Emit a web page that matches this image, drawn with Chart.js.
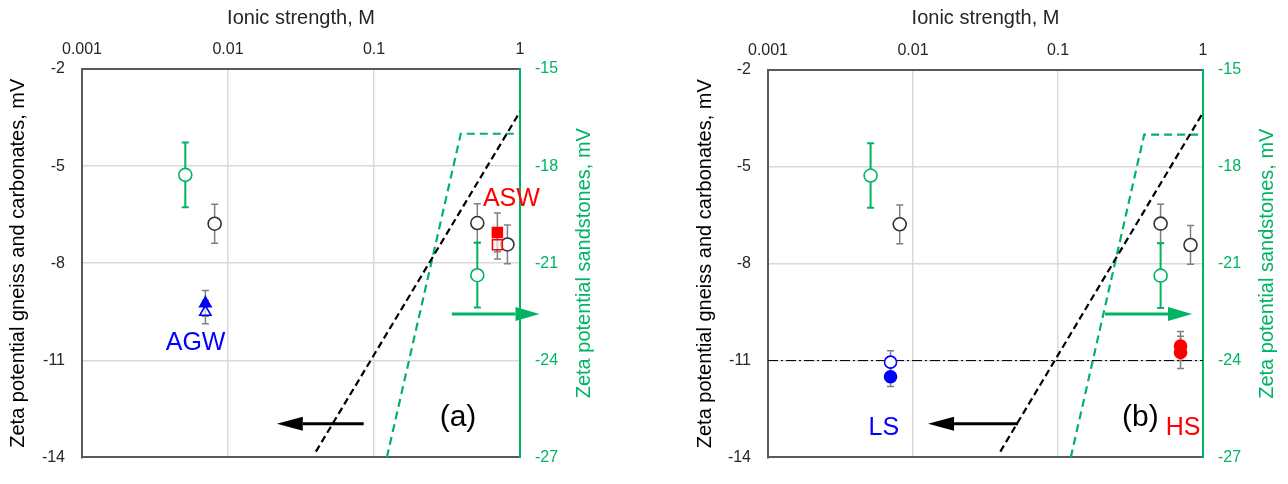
<!DOCTYPE html>
<html>
<head>
<meta charset="utf-8">
<script src="https://cdn.jsdelivr.net/npm/chart.js@4.4.0/dist/chart.umd.min.js"></script>
<style>
  body { margin: 0; background: #fff; }
  #wrap { position: relative; width: 1288px; height: 484px; }
  canvas { position: absolute; top: 0; }
</style>
</head>
<body>
<div id="wrap">
  <canvas id="panelA" width="644" height="484" style="left:0px"></canvas>
  <canvas id="panelB" width="644" height="484" style="left:644px"></canvas>
</div>
<script>
// axis ticks
const ionicTicks = [0.001, 0.01, 0.1, 1];
const ionicLabels = ['0.001', '0.01', '0.1', '1'];
const gneissTicks = [-2, -5, -8, -11, -14];
const sandTicks = [-15, -18, -21, -24, -27];

// gneiss & carbonates (black open circles, left axis), same in both panels
const gneissX = [0.0081, 0.51, 0.82];
const gneissY = [-6.78, -6.76, -7.42];
const gneissErr = [0.6, 0.6, 0.6];

// sandstones (green open circles, right axis)
const sandX = [0.0051, 0.51];
const sandY = [-18.27, -21.37];
const sandErr = [1.0, 1.0];

// trend lines
const trendGneissX = [0.04, 1];
const trendGneissY = [-13.82, -3.32];
const trendSandX = [0.1225, 0.393, 1];
const trendSandY = [-27, -17, -17];

// (a) AGW / ASW
const agwX = [0.0070];
const agwFilledY = [-9.24];
const agwFilledErr = [0.4];
const agwOpenY = [-9.51];
const agwOpenErr = [0.36];
const aswX = [0.70];
const aswFilledY = [-7.05];
const aswFilledErr = [0.6];
const aswOpenY = [-7.43];
const aswOpenErr = [0.44];

// (b) LS / HS
const lsX = [0.0070];
const lsOpenY = [-11.05];
const lsOpenErr = [0.35];
const lsFilledY = [-11.5];
const lsFilledErr = [0.3];
const hsX = [0.70];
const hsUpperY = [-10.55];
const hsUpperErr = [0.45];
const hsLowerY = [-10.75];
const hsLowerErr = [0.5];
const thresholdX = [0.001, 1];
const thresholdY = [-11, -11];

// arrows: x from -> to, at y
const arrowLeftX_a = [0.085, 0.0216];
const arrowLeftY_a = -12.96;
const arrowRightX_a = [0.341, 1.36];
const arrowRightY_a = -22.57;
const arrowLeftX_b = [0.053, 0.0127];
const arrowLeftY_b = -12.96;
const arrowRightX_b = [0.211, 0.84];
const arrowRightY_b = -22.56;

// text labels
const labelText_a = ['AGW', 'ASW', '(a)'];
const labelX_a = [0.0060, 0.873, 0.376];
const labelY_a = [-10.48, -6.01, -12.78];
const labelText_b = ['LS', 'HS', '(b)'];
const labelX_b = [0.0063, 0.728, 0.37];
const labelY_b = [-13.1, -13.1, -12.78];

const GREEN = '#00b464';
const GREY = '#7f7f7f';
const DARK = '#595959';
const GRID = '#d9d9d9';
const NONE = 'rgba(0,0,0,0)';

Chart.defaults.font.family = '"Liberation Sans", Arial, sans-serif';

const pts = (xs, ys) => xs.map((x, i) => ({x: x, y: ys[i]}));

const marker = (xs, ys, err, style, fill, stroke, r, errColor, axis) => ({
  data: pts(xs, ys),
  yAxisID: axis || 'y',
  xAxisID: 'x',
  yErr: err,
  errColor: errColor || GREY,
  showLine: false,
  pointStyle: style,
  pointRadius: r,
  pointHoverRadius: r,
  pointBackgroundColor: fill,
  pointBorderColor: stroke,
  pointBorderWidth: 1.6
});

const line = (xs, ys, color, dash, width, axis) => ({
  data: pts(xs, ys),
  yAxisID: axis || 'y',
  xAxisID: 'x',
  showLine: true,
  fill: false,
  tension: 0,
  borderColor: color,
  borderWidth: width,
  borderDash: dash,
  pointRadius: 0
});

function drawArrow(ctx, x1, y1, x2, y2, color, width, headLen, headHalf) {
  const ang = Math.atan2(y2 - y1, x2 - x1);
  const bx = x2 - headLen * Math.cos(ang), by = y2 - headLen * Math.sin(ang);
  ctx.strokeStyle = color;
  ctx.fillStyle = color;
  ctx.lineWidth = width;
  ctx.beginPath();
  ctx.moveTo(x1, y1);
  ctx.lineTo(bx, by);
  ctx.stroke();
  ctx.beginPath();
  ctx.moveTo(x2, y2);
  ctx.lineTo(bx + headHalf * Math.sin(ang), by - headHalf * Math.cos(ang));
  ctx.lineTo(bx - headHalf * Math.sin(ang), by + headHalf * Math.cos(ang));
  ctx.closePath();
  ctx.fill();
}

const extras = {
  id: 'extras',
  beforeDatasetsDraw(chart) {
    const ctx = chart.ctx;
    const xs = chart.scales.x;
    chart.data.datasets.forEach(ds => {
      if (!ds.yErr) return;
      const ys = chart.scales[ds.yAxisID];
      ctx.save();
      ctx.strokeStyle = ds.errColor;
      ctx.lineWidth = ds.errColor === GREEN ? 2 : 1.5;
      ds.data.forEach((p, i) => {
        const px = xs.getPixelForValue(p.x);
        const t = ys.getPixelForValue(p.y + ds.yErr[i]);
        const b = ys.getPixelForValue(p.y - ds.yErr[i]);
        ctx.beginPath();
        ctx.moveTo(px, t); ctx.lineTo(px, b);
        ctx.moveTo(px - 3.5, t); ctx.lineTo(px + 3.5, t);
        ctx.moveTo(px - 3.5, b); ctx.lineTo(px + 3.5, b);
        ctx.stroke();
      });
      ctx.restore();
    });
  },
  afterDraw(chart) {
    const o = chart.options.plugins.extras;
    const ctx = chart.ctx;
    const xs = chart.scales.x, yl = chart.scales.y, yr = chart.scales.y2;
    ctx.save();
    // arrows
    o.arrows.forEach(a => {
      const sc = a.axis === 'y2' ? yr : yl;
      const py = sc.getPixelForValue(a.y);
      drawArrow(ctx, xs.getPixelForValue(a.xs[0]), py, xs.getPixelForValue(a.xs[1]), py,
        a.color, 3, a.head, 7);
    });
    // labels
    ctx.textAlign = 'center';
    ctx.textBaseline = 'middle';
    o.labels.text.forEach((t, i) => {
      ctx.fillStyle = o.labels.colors[i];
      ctx.font = o.labels.sizes[i] + 'px "Liberation Sans", Arial, sans-serif';
      ctx.fillText(t, xs.getPixelForValue(o.labels.x[i]), yl.getPixelForValue(o.labels.y[i]));
    });
    // right axis title, read bottom to top
    ctx.translate(yr.left + o.rightTitleOffset, (chart.chartArea.top + chart.chartArea.bottom) / 2);
    ctx.rotate(-Math.PI / 2);
    ctx.fillStyle = GREEN;
    ctx.font = '20px "Liberation Sans", Arial, sans-serif';
    ctx.fillText('Zeta potential sandstones, mV', 0, 0);
    ctx.restore();
  }
};

function makeScales(box) {
  return {
    x: {
      type: 'logarithmic', position: 'top', min: 0.001, max: 1,
      afterBuildTicks: s => { s.ticks = ionicTicks.map(v => ({value: v})); },
      afterFit: s => { s.height = box.top; },
      ticks: {
        callback: v => ionicLabels[ionicTicks.indexOf(v)],
        color: '#262626', font: {size: 16}, padding: 10, maxRotation: 0, autoSkip: false
      },
      grid: {
        color: c => (c.tick && (c.tick.value === 0.001 || c.tick.value === 1)) ? NONE : GRID,
        lineWidth: 1.5, drawTicks: false
      },
      border: {color: DARK, width: 2},
      title: {display: true, text: 'Ionic strength, M', color: '#262626', font: {size: 20}, padding: {top: 6, bottom: 0}}
    },
    x2: {
      type: 'logarithmic', position: 'bottom', min: 0.001, max: 1,
      afterFit: s => { s.height = box.bottom; },
      ticks: {display: false},
      grid: {display: false, drawTicks: false},
      border: {color: DARK, width: 2}
    },
    y: {
      type: 'linear', position: 'left', min: -14, max: -2,
      afterBuildTicks: s => { s.ticks = gneissTicks.map(v => ({value: v})); },
      afterFit: s => { s.width = box.left; },
      ticks: {callback: v => String(v), color: '#262626', font: {size: 16}, padding: 17},
      grid: {
        color: c => (c.tick && (c.tick.value === -2 || c.tick.value === -14)) ? NONE : GRID,
        lineWidth: 1.5, drawTicks: false
      },
      border: {color: DARK, width: 2},
      title: {display: true, text: 'Zeta potential gneiss and carbonates, mV', color: '#000', font: {size: 20},
        padding: {top: box.leftTitlePad, bottom: 0}}
    },
    y2: {
      type: 'linear', position: 'right', min: -27, max: -15,
      afterBuildTicks: s => { s.ticks = sandTicks.map(v => ({value: v})); },
      afterFit: s => { s.width = box.right; },
      ticks: {callback: v => String(v), color: GREEN, font: {size: 16}, padding: 15},
      grid: {drawOnChartArea: false, drawTicks: false},
      border: {color: GREEN, width: 2}
    }
  };
}

function makePanel(id, datasets, box, arrows, labels) {
  return new Chart(document.getElementById(id), {
    type: 'scatter',
    data: {datasets: datasets},
    options: {
      responsive: false,
      animation: false,
      devicePixelRatio: 1,
      layout: {padding: 0},
      scales: makeScales(box),
      plugins: {
        legend: {display: false},
        tooltip: {enabled: false},
        extras: {arrows: arrows, labels: labels, rightTitleOffset: 64}
      }
    },
    plugins: [extras]
  });
}

const commonPoints = () => [
  marker(gneissX, gneissY, gneissErr, 'circle', '#fff', '#333', 6.5),
  marker(sandX, sandY, sandErr, 'circle', '#fff', GREEN, 6.5, GREEN, 'y2')
];

const datasetsA = [
  marker(agwX, agwFilledY, agwFilledErr, 'triangle', '#0000ff', '#0000ff', 6.5),
  marker(agwX, agwOpenY, agwOpenErr, 'triangle', 'rgba(255,255,255,0.6)', '#0000ff', 6.5),
  marker(aswX, aswFilledY, aswFilledErr, 'rect', '#ff0000', '#ff0000', 7),
  marker(aswX, aswOpenY, aswOpenErr, 'rect', 'rgba(255,255,255,0.6)', '#ff0000', 7),
  ...commonPoints(),
  line(trendGneissX, trendGneissY, '#000', [7, 4], 2.2),
  line(trendSandX, trendSandY, GREEN, [8, 5], 2.2, 'y2')
];

const datasetsB = [
  marker(lsX, lsFilledY, lsFilledErr, 'circle', '#0000ff', '#0000ff', 6),
  marker(lsX, lsOpenY, lsOpenErr, 'circle', '#fff', '#0000ff', 6),
  marker(hsX, hsUpperY, hsUpperErr, 'circle', '#ff0000', '#ff0000', 6),
  marker(hsX, hsLowerY, hsLowerErr, 'circle', '#ff0000', '#ff0000', 6),
  ...commonPoints(),
  line(thresholdX, thresholdY, '#000', [10, 3, 2, 3], 1),
  line(trendGneissX, trendGneissY, '#000', [7, 4], 2.2),
  line(trendSandX, trendSandY, GREEN, [8, 5], 2.2, 'y2')
];

makePanel('panelA', datasetsA,
  {top: 69, bottom: 13, left: 82, right: 124, leftTitlePad: 6},
  [
    {xs: arrowLeftX_a, y: arrowLeftY_a, axis: 'y', color: '#000', head: 26},
    {xs: arrowRightX_a, y: arrowRightY_a, axis: 'y2', color: GREEN, head: 24}
  ],
  {text: labelText_a, x: labelX_a, y: labelY_a, colors: ['#0000ff', '#ff0000', '#000'], sizes: [25, 25, 30]}
);

makePanel('panelB', datasetsB,
  {top: 70, bottom: 12, left: 124, right: 85, leftTitlePad: 49},
  [
    {xs: arrowLeftX_b, y: arrowLeftY_b, axis: 'y', color: '#000', head: 26},
    {xs: arrowRightX_b, y: arrowRightY_b, axis: 'y2', color: GREEN, head: 24}
  ],
  {text: labelText_b, x: labelX_b, y: labelY_b, colors: ['#0000ff', '#ff0000', '#000'], sizes: [25, 25, 30]}
);
</script>
</body>
</html>
